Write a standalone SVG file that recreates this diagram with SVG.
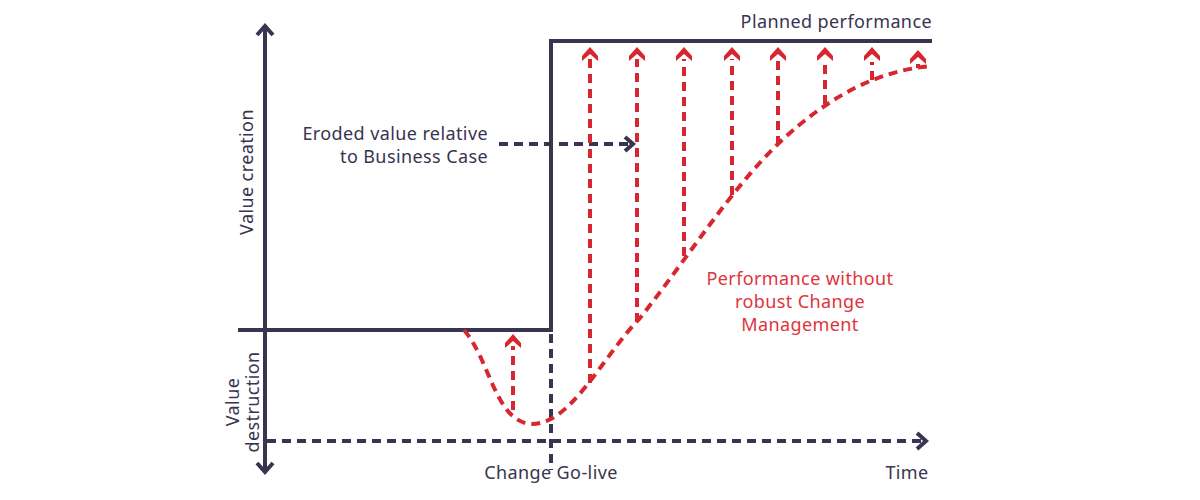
<svg xmlns="http://www.w3.org/2000/svg" width="1200" height="500" viewBox="0 0 1200 500">
<defs>
<style>
.ax{fill:none;stroke:#39344f;stroke-width:4}
.dk{fill:none;stroke:#39344f;stroke-width:4;stroke-dasharray:9 6}
.rd{fill:none;stroke:#d7262f;stroke-width:4;stroke-dasharray:9 6}
.t{font-family:"Noto Sans",sans-serif;font-size:18px;letter-spacing:0.4px;fill:#39344f}
.tr{font-family:"Noto Sans",sans-serif;font-size:18px;letter-spacing:0.4px;fill:#e0343c}
.rh{fill:#d7262f}
</style>
<path id="rhead" d="M-8,5 L0,-4 L8,5 L8,10 L0,3 L-8,10 Z"/>
</defs>
<rect width="1200" height="500" fill="#fff"/>
<g id="axes">
<line class="ax" x1="265" y1="26" x2="265" y2="472"/>
<polyline class="ax" points="257,35 265,26 273,35"/>
<polyline class="ax" points="257,463 265,472 273,463"/>
<line class="dk" x1="267" y1="441" x2="924" y2="441"/>
<polyline class="ax" points="917,433 926,441 917,449"/>
</g>
<g id="planned">
<polyline class="ax" points="238,330 551,330 551,41 932,41"/>
</g>
<g id="golive">
<line class="dk" x1="551" y1="334" x2="551" y2="470"/>
</g>
<g id="eroded-arrow">
<line class="dk" x1="499" y1="144" x2="630" y2="144"/>
<polyline class="ax" points="625,137 633,144 625,151"/>
</g>
<g id="curve">
<path class="rd" d="M464,330 C490,360 495,420 530,424 C570,426 600,360 640,318 C690,255 730,190 780,142 C830,95 880,70 932,66"/>
</g>
<g id="red-arrows">
<line class="rd" x1="513" y1="410" x2="513" y2="346"/>
<use href="#rhead" class="rh" x="513" y="338"/>
<line class="rd" x1="590" y1="383" x2="590" y2="59"/>
<use href="#rhead" class="rh" x="590" y="51"/>
<line class="rd" x1="637" y1="322" x2="637" y2="59"/>
<use href="#rhead" class="rh" x="637" y="51"/>
<line class="rd" x1="684" y1="256" x2="684" y2="59"/>
<use href="#rhead" class="rh" x="684" y="51"/>
<line class="rd" x1="732" y1="195" x2="732" y2="59"/>
<use href="#rhead" class="rh" x="732" y="51"/>
<line class="rd" x1="778" y1="145" x2="778" y2="59"/>
<use href="#rhead" class="rh" x="778" y="51"/>
<line class="rd" x1="825" y1="104" x2="825" y2="59"/>
<use href="#rhead" class="rh" x="825" y="51"/>
<line class="rd" x1="872" y1="80" x2="872" y2="62"/>
<use href="#rhead" class="rh" x="872" y="51"/>
<line class="rd" x1="918" y1="68" x2="918" y2="64"/>
<use href="#rhead" class="rh" x="918" y="54"/>
</g>
<g id="labels">
<text class="t" x="932" y="28" text-anchor="end">Planned performance</text>
<text class="t" x="488" y="140" text-anchor="end">Eroded value relative</text>
<text class="t" x="488" y="163" text-anchor="end">to Business Case</text>
<text class="t" transform="translate(253,172) rotate(-90)" text-anchor="middle">Value creation</text>
<text class="t" transform="translate(239,402) rotate(-90)" text-anchor="middle">Value</text>
<text class="t" transform="translate(259,402) rotate(-90)" text-anchor="middle">destruction</text>
<text class="t" x="551" y="479" text-anchor="middle">Change Go-live</text>
<text class="t" x="907" y="479" text-anchor="middle">Time</text>
<text class="tr" x="800" y="285" text-anchor="middle">Performance without</text>
<text class="tr" x="800" y="308" text-anchor="middle">robust Change</text>
<text class="tr" x="800" y="331" text-anchor="middle">Management</text>
</g>
</svg>
